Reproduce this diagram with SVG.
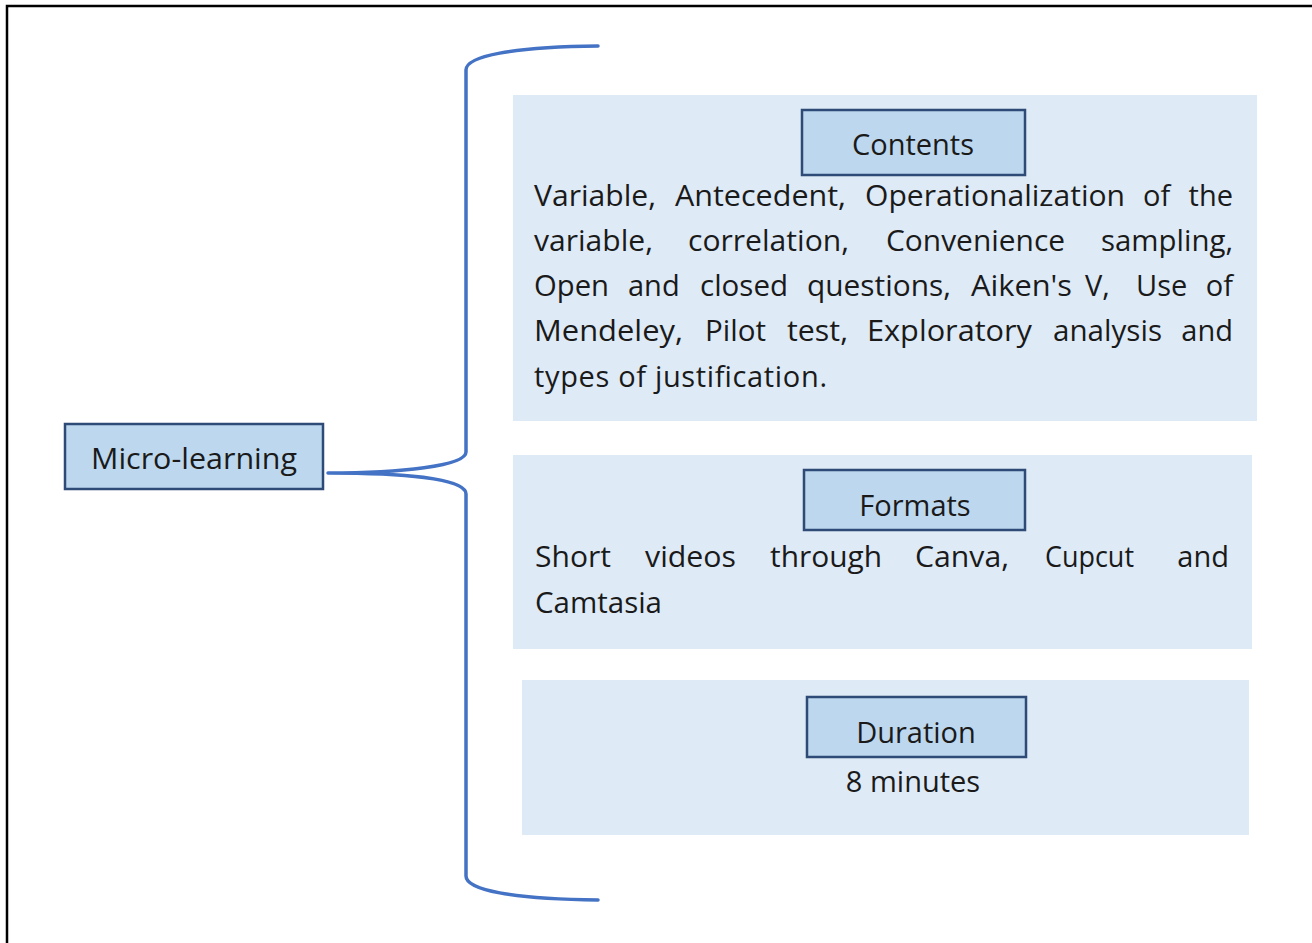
<svg xmlns="http://www.w3.org/2000/svg" width="1312" height="943" viewBox="0 0 1312 943">
<style>
.t{font-family:"Open Sans","Noto Sans","Liberation Sans",sans-serif;font-size:29px;fill:#1a1a1a}
.c{text-anchor:middle}
.e{text-anchor:end}
.panel{fill:#DEEAF6}
.box{fill:#BDD7EE;stroke:#2E4A76;stroke-width:2.5}
.brace{fill:none;stroke:#4472C4;stroke-width:3.5;stroke-linecap:round;stroke-linejoin:round}
</style>
<rect x="0" y="0" width="1312" height="943" fill="#ffffff"/>
<rect x="7" y="6" width="1330" height="960" fill="none" stroke="#000" stroke-width="2.5"/>
<g id="connectors">
<path class="brace" d="M598,46 C512,47 466,56 466,70 L466,452 C466,466 400,473 328,473 C400,473 466,478 466,494 L466,876 C466,890 512,899 598,900"/>
</g>
<g id="micro-learning">
<rect class="box" x="65" y="424" width="258" height="65"/>
<text class="t c" x="194" y="469" textLength="206" lengthAdjust="spacingAndGlyphs">Micro-learning</text>
</g>
<g id="contents-panel">
<rect class="panel" x="513" y="95" width="744" height="326"/>
<rect class="box" x="802" y="110" width="223" height="65"/>
<text class="t c" x="913" y="155">Contents</text>
<text class="t" y="206"><tspan x="534" textLength="122" lengthAdjust="spacingAndGlyphs">Variable,</tspan><tspan x="675" textLength="171" lengthAdjust="spacingAndGlyphs">Antecedent,</tspan><tspan x="865" textLength="260" lengthAdjust="spacingAndGlyphs">Operationalization</tspan><tspan x="1143">of</tspan></text>
<text class="t e" x="1233" y="206">the</text>
<text class="t" y="251"><tspan x="534" textLength="119" lengthAdjust="spacingAndGlyphs">variable,</tspan><tspan x="688" textLength="161" lengthAdjust="spacingAndGlyphs">correlation,</tspan><tspan x="886" textLength="179" lengthAdjust="spacingAndGlyphs">Convenience</tspan><tspan x="1101" textLength="132" lengthAdjust="spacingAndGlyphs">sampling,</tspan></text>
<text class="t" y="296"><tspan x="534" textLength="75" lengthAdjust="spacingAndGlyphs">Open</tspan><tspan x="628">and</tspan><tspan x="700" textLength="88" lengthAdjust="spacingAndGlyphs">closed</tspan><tspan x="807" textLength="144" lengthAdjust="spacingAndGlyphs">questions,</tspan><tspan x="971" textLength="101" lengthAdjust="spacingAndGlyphs">Aiken's</tspan><tspan x="1085">V,</tspan><tspan x="1136">Use</tspan></text>
<text class="t e" x="1233" y="296">of</text>
<text class="t" y="341"><tspan x="534" textLength="149" lengthAdjust="spacingAndGlyphs">Mendeley,</tspan><tspan x="705" textLength="61" lengthAdjust="spacingAndGlyphs">Pilot</tspan><tspan x="787" textLength="61" lengthAdjust="spacingAndGlyphs">test,</tspan><tspan x="867" textLength="165" lengthAdjust="spacingAndGlyphs">Exploratory</tspan><tspan x="1053" textLength="109" lengthAdjust="spacingAndGlyphs">analysis</tspan></text>
<text class="t e" x="1233" y="341">and</text>
<text class="t" x="534" y="387" textLength="293" lengthAdjust="spacing">types of justification.</text>
</g>
<g id="formats-panel">
<rect class="panel" x="513" y="455" width="739" height="194"/>
<rect class="box" x="804" y="470" width="221" height="60"/>
<text class="t c" x="915" y="516">Formats</text>
<text class="t" y="567"><tspan x="535" textLength="76" lengthAdjust="spacingAndGlyphs">Short</tspan><tspan x="645" textLength="91" lengthAdjust="spacingAndGlyphs">videos</tspan><tspan x="770" textLength="112" lengthAdjust="spacingAndGlyphs">through</tspan><tspan x="915" textLength="94" lengthAdjust="spacingAndGlyphs">Canva,</tspan><tspan x="1045" textLength="89" lengthAdjust="spacingAndGlyphs">Cupcut</tspan></text>
<text class="t e" x="1229" y="567">and</text>
<text class="t" x="535" y="613" textLength="127" lengthAdjust="spacingAndGlyphs">Camtasia</text>
</g>
<g id="duration-panel">
<rect class="panel" x="522" y="680" width="727" height="155"/>
<rect class="box" x="807" y="697" width="219" height="60"/>
<text class="t c" x="916" y="743">Duration</text>
<text class="t c" x="913" y="792">8 minutes</text>
</g>
</svg>
